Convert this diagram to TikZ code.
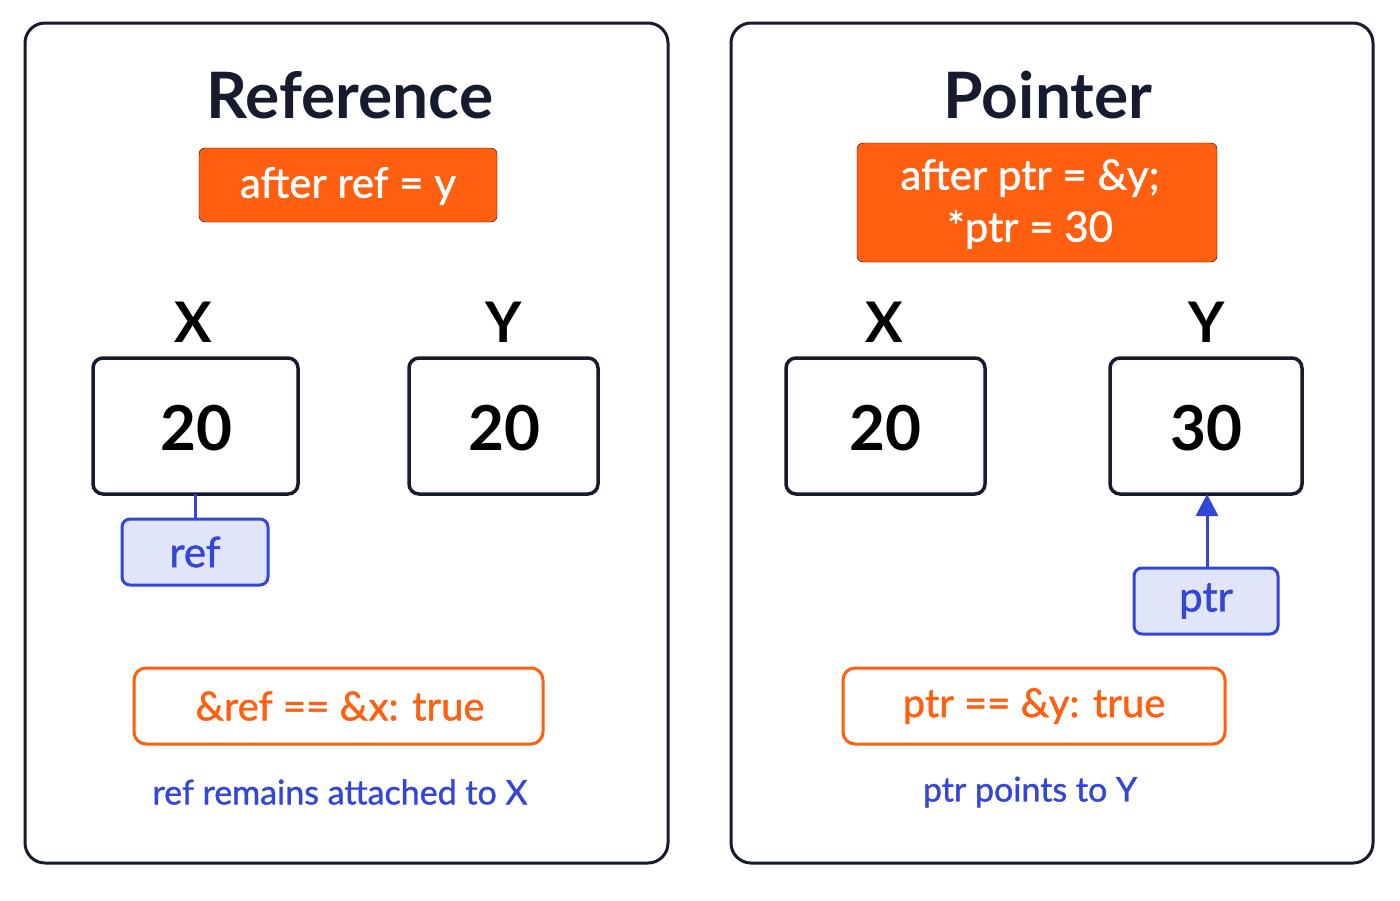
\documentclass[tikz,border=0pt]{standalone}
\usepackage{fontspec}
\setmainfont{Lato}
\newfontfamily\med{Lato}[AutoFakeBold=1.1]
\usetikzlibrary{arrows.meta}
\definecolor{navy}{HTML}{161B2E}
\definecolor{org}{HTML}{FF5F0F}
\definecolor{blu}{HTML}{3446D8}
\definecolor{lav}{HTML}{E1E5FA}
\newcommand{\fs}[1]{\fontsize{#1}{#1}\selectfont}
\newcommand{\fm}[1]{\med\bfseries\fontsize{#1}{#1}\selectfont}
\begin{document}
\begin{tikzpicture}[x=1pt,y=-1pt,
 panel/.style={draw=navy,line width=3pt,rounded corners=20pt},
 obox/.style={fill=org,rounded corners=6pt},
 val/.style={draw=navy,line width=3.5pt,rounded corners=10pt,fill=white},
 tag/.style={draw=blu,fill=lav,line width=3pt,rounded corners=8pt},
 obord/.style={draw=org,line width=3pt,rounded corners=12pt},
 conn/.style={draw=blu,line width=3pt}]
\path[use as bounding box,fill=white] (0,0) rectangle (1400,900);
\draw[panel] (25,23) rectangle (668,863);
\draw[panel] (731,23) rectangle (1373,863);
\node[text=navy,font=\fs{64}\bfseries] (t1) at (350,95) {Reference};
\node[text=navy,font=\fs{64}\bfseries] (t2) at (1048,95) {Pointer};
\draw[obox] (199,148) rectangle (497,222);
\node[text=white,font=\fm{42}] (o1) at (348,186) {after ref = y};
\draw[obox] (857,143) rectangle (1217,262);
\node[text=white,font=\fm{42},align=center] (o2) at (1030,204) {after ptr = \&y;\\[10pt]*ptr = 30};
\foreach \n/\x/\t in {lx/193/X,ly/504/Y,rx/884/X,ry/1207/Y}
  \node[text=black,font=\fs{56}\bfseries] (\n) at (\x,322) {\t};
\draw[val] (93,358) rectangle (298,494);
\draw[val] (409,358) rectangle (598,494);
\draw[val] (786,358) rectangle (985,494);
\draw[val] (1110,358) rectangle (1302,494);
\node[font=\fs{62}\bfseries] (v1) at (196,428) {20};
\node[font=\fs{62}\bfseries] (v2) at (504,428) {20};
\node[font=\fs{62}\bfseries] (v3) at (885,428) {20};
\node[font=\fs{62}\bfseries] (v4) at (1206,428) {30};
\coordinate (xb) at (195,494);
\coordinate (yb) at (1207,494);
\draw[tag] (122,519) rectangle (268,585);
\node[text=blu,font=\fm{42}] (ref) at (195,552) {ref};
\coordinate (reft) at (195,519);
\draw[conn] (xb) -- (reft);
\draw[tag] (1134,568) rectangle (1278,634);
\node[text=blu,font=\fm{42}] (ptr) at (1206,601) {ptr};
\coordinate (ptrt) at (1207,568);
\draw[conn,-{Triangle[length=22pt,width=22pt]}] (ptrt) -- (yb);
\draw[obord] (134,668) rectangle (543,744);
\node[text=org,font=\fm{40}] (c1) at (340,706) {\&ref == \&x: true};
\draw[obord] (843,668) rectangle (1225,744);
\node[text=org,font=\fm{40}] (c2) at (1034,706) {ptr == \&y: true};
\node[text=blu,font=\fm{34}] (cap1) at (340,792) {ref remains attached to X};
\node[text=blu,font=\fm{34}] (cap2) at (1030,792) {ptr points to Y};
\end{tikzpicture}
\end{document}
